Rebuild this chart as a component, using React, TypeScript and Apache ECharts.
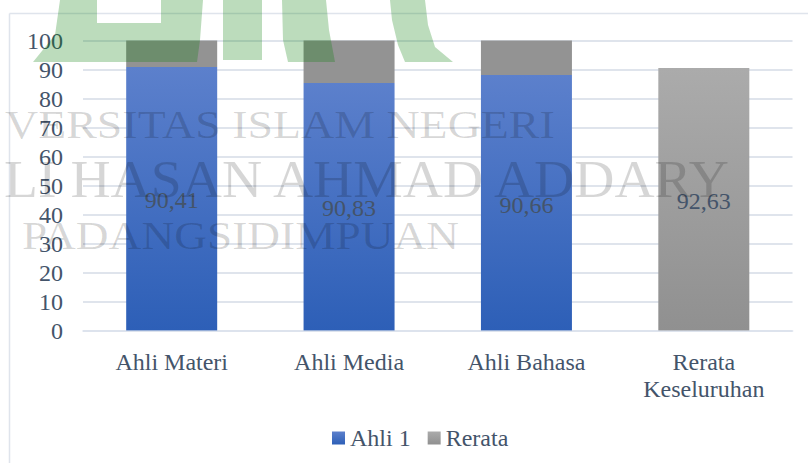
import React, { useEffect, useRef } from "react";
import * as echarts from "echarts";

const categories = ["Ahli Materi", "Ahli Media", "Ahli Bahasa", "Rerata\nKeseluruhan"];
const ahli1Values = [90.9, 85.4, 88.1, null];
const rerataValues = [9.1, 14.6, 11.9, 90.5];
const ahli1Labels = ["90,41", "90,83", "90,66", ""];
const rerataLabels = ["", "", "", "92,63"];
const yTicks = { min: 0, max: 100, interval: 10 };

const TEXT = "#44546a";
const FONT = "'Liberation Serif', 'Times New Roman', serif";
const grad = (a: string, b: string) =>
  new echarts.graphic.LinearGradient(0, 0, 0, 1, [
    { offset: 0, color: a },
    { offset: 1, color: b },
  ]);

const poly = (points: number[][]) => ({
  type: "polygon",
  z: 10,
  silent: true,
  shape: { points },
  style: { fill: "rgba(7,126,7,0.27)" },
});
const wm = (text: string, x: number, y: number, size: number, scaleX: number) => ({
  type: "text",
  z: 10,
  silent: true,
  x,
  y,
  scaleX,
  style: {
    text,
    fill: "rgba(0,0,0,0.16)",
    font: `${size}px ${FONT}`,
    verticalAlign: "middle",
  },
});

export default function App() {
  const ref = useRef<HTMLDivElement>(null);
  useEffect(() => {
    document.body.style.margin = "0";
    const chart = echarts.init(ref.current!, null, { renderer: "svg" });
    const labelStyle = {
      show: true,
      position: "inside" as const,
      color: TEXT,
      fontFamily: FONT,
      fontSize: 24,
      offset: [0, 1.5],
    };
    chart.setOption({
      animation: false,
      backgroundColor: "#fff",
      textStyle: { fontFamily: FONT },
      grid: { left: 83, right: 15.5, top: 40.5, bottom: 132, containLabel: false },
      legend: {
        data: ["Ahli 1", "Rerata"],
        left: 327,
        top: 421,
        itemWidth: 13,
        itemHeight: 13,
        itemGap: 17,
        icon: "rect",
        textStyle: { color: TEXT, fontFamily: FONT, fontSize: 24 },
      },
      xAxis: {
        type: "category",
        data: categories,
        z: 5,
        axisTick: { show: false },
        axisLine: { lineStyle: { color: "rgba(220,226,238,0.6)", width: 2 } },
        axisLabel: { color: TEXT, fontFamily: FONT, fontSize: 24, margin: 17, lineHeight: 27, interval: 0 },
      },
      yAxis: {
        type: "value",
        ...yTicks,
        axisLine: { show: false },
        axisTick: { show: false },
        splitLine: { lineStyle: { color: "#dfe4ec", width: 2 } },
        axisLabel: { color: TEXT, fontFamily: FONT, fontSize: 24, margin: 20, padding: [8, 0, 0, 0] },
      },
      series: [
        {
          name: "Ahli 1",
          type: "bar",
          stack: "a",
          barWidth: 91,
          itemStyle: { color: grad("#5c80cc", "#2d5fb7") },
          label: { ...labelStyle, formatter: (p: any) => ahli1Labels[p.dataIndex] },
          data: ahli1Values,
        },
        {
          name: "Rerata",
          type: "bar",
          stack: "a",
          barWidth: 91,
          itemStyle: { color: grad("#ababab", "#909090") },
          label: { ...labelStyle, formatter: (p: any) => rerataLabels[p.dataIndex] },
          data: rerataValues.map((v, i) =>
            rerataLabels[i] ? v : { value: v, itemStyle: { color: "#939393" } }
          ),
        },
      ],
      graphic: [
        { type: "line", z: 1, silent: true, shape: { x1: 9.5, y1: 13.5, x2: 808, y2: 13.5 }, style: { stroke: "#dfe4ec", lineWidth: 1.5 } },
        { type: "line", z: 1, silent: true, shape: { x1: 9.5, y1: 13.5, x2: 9.5, y2: 463 }, style: { stroke: "#dfe4ec", lineWidth: 1.5 } },
        poly([[60, 0], [97, 0], [97, 23], [161, 23], [161, 0], [203, 0], [200, 40], [197, 62], [33, 62], [55, 35]]),
        poly([[223, 0], [262, 0], [262, 60], [223, 60]]),
        poly([[282, 0], [326, 0], [329, 30], [335, 62], [288, 62], [283, 40]]),
        poly([[390, 0], [392, 20], [398, 45], [405, 62], [453, 62], [435, 47], [428, 25], [425, 0]]),
        wm("VERSITAS ISLAM NEGERI", 5, 124, 41, 1.12),
        wm("LI HASAN AHMAD ADDARY", 4, 180, 52, 1.07),
        wm("PADANGSIDIMPUAN", 22, 235, 40, 1.135),
      ],
    });
    return () => chart.dispose();
  }, []);
  return <div ref={ref} style={{ position: "fixed", left: 0, top: 0, width: 808, height: 463 }} />;
}
